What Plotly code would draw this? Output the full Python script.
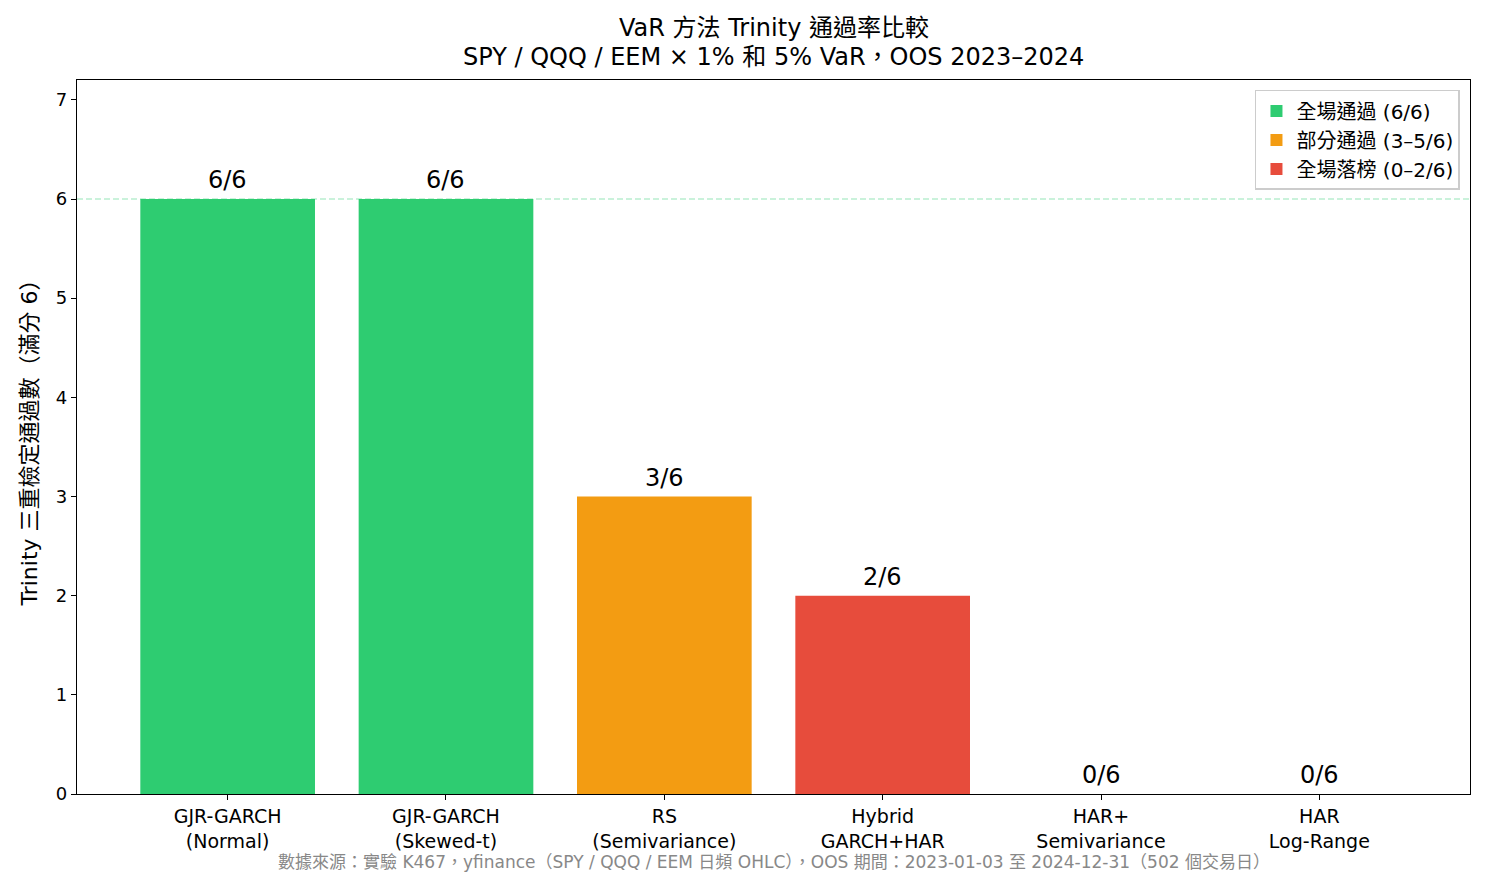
import plotly.graph_objects as go

methods = ["GJR-GARCH<br>(Normal)", "GJR-GARCH<br>(Skewed-t)", "RS<br>(Semivariance)",
           "Hybrid<br>GARCH+HAR", "HAR+<br>Semivariance", "HAR<br>Log-Range"]
passes = [6, 6, 3, 2, 0, 0]
labels = ["6/6", "6/6", "3/6", "2/6", "0/6", "0/6"]
categories = ["全場通過 (6/6)", "部分通過 (3–5/6)", "全場落榜 (0–2/6)"]
cat_colors = ["#2ecc71", "#f39c12", "#e74c3c"]
title_lines = ["VaR 方法 Trinity 通過率比較",
               "SPY / QQQ / EEM × 1% 和 5% VaR，OOS 2023–2024"]
footer = "數據來源：實驗 K467，yfinance（SPY / QQQ / EEM 日頻 OHLC），OOS 期間：2023-01-03 至 2024-12-31（502 個交易日）"

def cat_of(v):
    if v == 6:
        return 0
    if v >= 3:
        return 1
    return 2

FONT = "DejaVu Sans, Noto Sans CJK TC, sans-serif"
fig = go.Figure()
xs = list(range(len(methods)))
for ci, cname in enumerate(categories):
    idx = [i for i, v in enumerate(passes) if cat_of(v) == ci]
    fig.add_trace(go.Bar(
        x=[xs[i] for i in idx], y=[passes[i] for i in idx],
        width=0.8, marker=dict(color=cat_colors[ci], line=dict(width=0)),
        name=cname, showlegend=True,
    ))

for x, v, lab in zip(xs, passes, labels):
    fig.add_annotation(x=x, y=v, text=lab, xref="x", yref="y", showarrow=False,
                       xanchor="center", yanchor="bottom", yshift=3,
                       font=dict(size=24, color="black", family=FONT))

fig.add_shape(type="line", xref="paper", x0=0, x1=1, y0=6, y1=6,
              line=dict(color="rgba(46,204,113,0.5)", width=1.2, dash="6px,3px"))

fig.update_layout(
    width=1485, height=886,
    margin=dict(l=77, r=15, t=80, b=92),
    paper_bgcolor="white", plot_bgcolor="white",
    font=dict(family=FONT, color="black", size=18),
    bargap=0.2,
    legend=dict(x=0.9928, xanchor="right", y=0.986, yanchor="top",
                bordercolor="#cccccc", borderwidth=1.5, bgcolor="rgba(255,255,255,0.9)",
                font=dict(size=20, family=FONT), itemsizing="constant",
                tracegroupgap=0),
)
fig.add_annotation(text=title_lines[0], xref="paper", yref="paper", x=0.5, y=1.0728,
                   xanchor="center", yanchor="middle", showarrow=False,
                   font=dict(size=24, family=FONT, color="black"))
fig.add_annotation(text=title_lines[1], xref="paper", yref="paper", x=0.5, y=1.0322,
                   xanchor="center", yanchor="middle", showarrow=False,
                   font=dict(size=24, family=FONT, color="black"))

fig.update_xaxes(range=[-0.69, 5.69], tickvals=xs, ticktext=methods,
                 showline=True, linecolor="black", linewidth=1.2, mirror=True,
                 ticks="outside", ticklen=5, tickcolor="black", showgrid=False,
                 tickfont=dict(size=19))
fig.update_yaxes(range=[0, 7.2], tickvals=list(range(8)),
                 showline=True, linecolor="black", linewidth=1.2, mirror=True,
                 ticks="outside", ticklen=5, tickcolor="black", showgrid=False,
                 zeroline=False, tickfont=dict(size=18),
                 title=dict(text="Trinity 三重檢定通過數（滿分 6）", font=dict(size=22), standoff=12))

fig.add_annotation(text=footer,
                   xref="paper", yref="paper", x=0.5, y=-0.0952, xanchor="center", yanchor="middle",
                   showarrow=False, font=dict(size=17, color="#888888", family=FONT))

fig.write_html("out.html")
